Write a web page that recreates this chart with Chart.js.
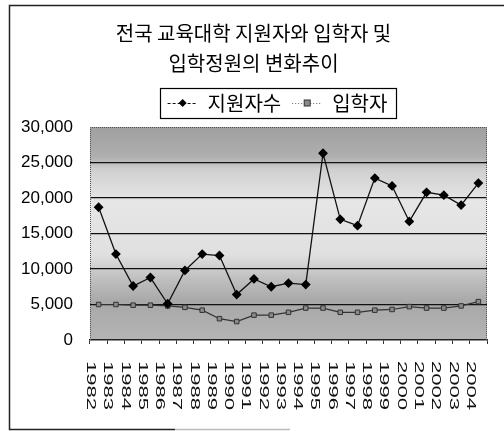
<!DOCTYPE html>
<html>
<head>
<meta charset="utf-8">
<script src="https://cdn.jsdelivr.net/npm/chart.js@4.4.0/dist/chart.umd.min.js"></script>
<style>
  html, body { margin: 0; padding: 0; background: #fff; }
  #wrap { width: 504px; height: 431px; position: relative; }
</style>
</head>
<body>
<div id="wrap"><canvas id="trendChart"></canvas></div>
<script>
// Chart data
const titleLines = ['전국 교육대학 지원자와 입학자 및', '입학정원의 변화추이'];
const years = [
  '1982', '1983', '1984', '1985', '1986', '1987', '1988', '1989', '1990', '1991', '1992', '1993',
  '1994', '1995', '1996', '1997', '1998', '1999', '2000', '2001', '2002', '2003', '2004'
];
const applicants = [
  18700, 12100, 7600, 8800, 5100, 9800, 12100, 11900, 6400, 8600, 7500, 8000,
  7800, 26300, 17000, 16100, 22800, 21700, 16700, 20800, 20400, 19000, 22100
];
const entrants = [
  5000, 5000, 4900, 4900, 4800, 4600, 4200, 3000, 2600, 3500, 3500, 3900,
  4500, 4500, 3900, 3900, 4200, 4300, 4700, 4500, 4500, 4800, 5400
];
const yTicks = [0, 5000, 10000, 15000, 20000, 25000, 30000];

const KR_FONT = '"Noto Sans CJK KR", "Noto Sans", sans-serif';
const NUM_FONT = '"Liberation Sans", Arial, sans-serif';
const LEGEND_SHIFT = 24; // legend sits right of the title centre in the original

// grey mottled plot background + dotted plot border
const plotBackground = {
  id: 'plotBackground',
  beforeDraw(chart) {
    const { ctx, chartArea: a } = chart;
    const g = ctx.createLinearGradient(0, a.top, 0, a.bottom);
    g.addColorStop(0, '#a0a0a0');
    g.addColorStop(0.14, '#afafaf');
    g.addColorStop(0.2, '#d0d0d0');
    g.addColorStop(0.35, '#e6e6e6');
    g.addColorStop(0.6, '#e0e0e0');
    g.addColorStop(0.7, '#c2c2c2');
    g.addColorStop(0.82, '#a8a8a8');
    g.addColorStop(1, '#b4b4b4');
    ctx.save();
    ctx.fillStyle = g;
    ctx.fillRect(a.left, a.top, a.right - a.left, a.bottom - a.top);
    ctx.restore();

    // move the legend a little to the right
    const lg = chart.legend;
    if (lg && !lg._shifted) {
      lg.left += LEGEND_SHIFT;
      lg.right += LEGEND_SHIFT;
      lg.legendHitBoxes.forEach(hb => { hb.left += LEGEND_SHIFT; });
      lg._shifted = true;
    }
  },
  beforeDatasetsDraw(chart) {
    const { ctx, chartArea: a } = chart;
    ctx.save();
    ctx.strokeStyle = '#555';
    ctx.lineWidth = 1;
    ctx.setLineDash([1, 1]);
    ctx.beginPath();
    ctx.moveTo(a.left + 0.5, a.bottom);
    ctx.lineTo(a.left + 0.5, a.top + 0.5);
    ctx.lineTo(a.right - 0.5, a.top + 0.5);
    ctx.lineTo(a.right - 0.5, a.bottom);
    ctx.stroke();
    ctx.restore();
  }
};

// outer frame of the figure
const outerFrame = {
  id: 'outerFrame',
  afterDraw(chart) {
    const { ctx } = chart;
    ctx.save();
    ctx.strokeStyle = '#222';
    ctx.lineWidth = 1.5;
    ctx.beginPath();
    ctx.moveTo(504, 5.5);
    ctx.lineTo(9.5, 5.5);
    ctx.lineTo(9.5, 429.5);
    ctx.lineTo(175, 429.5);
    ctx.stroke();
    ctx.strokeStyle = '#bbb';
    ctx.beginPath();
    ctx.moveTo(175, 429.5);
    ctx.lineTo(290, 429.5);
    ctx.stroke();
    ctx.restore();
  }
};

// line + marker samples and the box round the legend
const legendDecor = {
  id: 'legendDecor',
  afterDraw(chart) {
    const { ctx } = chart;
    const boxes = chart.legend.legendHitBoxes;
    if (!boxes || !boxes.length) return;
    ctx.save();
    boxes.forEach((hb, i) => {
      const cy = hb.top + hb.height / 2;
      const cx = hb.left + 15;
      ctx.lineWidth = 1;
      ctx.strokeStyle = i === 0 ? '#111' : '#666';
      ctx.setLineDash(i === 0 ? [3, 2] : [1, 2]);
      ctx.beginPath();
      ctx.moveTo(hb.left, cy + 0.5);
      ctx.lineTo(hb.left + 30, cy + 0.5);
      ctx.stroke();
      ctx.setLineDash([]);
      if (i === 0) {
        ctx.fillStyle = '#000';
        ctx.beginPath();
        ctx.moveTo(cx, cy - 4);
        ctx.lineTo(cx + 4, cy);
        ctx.lineTo(cx, cy + 4);
        ctx.lineTo(cx - 4, cy);
        ctx.closePath();
        ctx.fill();
      } else {
        ctx.fillStyle = '#8a8a8a';
        ctx.strokeStyle = '#333';
        ctx.fillRect(cx - 3, cy - 3, 6, 6);
        ctx.strokeRect(cx - 3, cy - 3, 6, 6);
      }
    });
    const left = Math.min(...boxes.map(b => b.left)) - 8;
    const right = Math.max(...boxes.map(b => b.left + b.width)) + 8;
    const cy = boxes[0].top + boxes[0].height / 2;
    ctx.strokeStyle = '#000';
    ctx.lineWidth = 1.2;
    ctx.strokeRect(Math.round(left) + 0.5, Math.round(cy - 15) + 0.5, Math.round(right - left), 30);
    ctx.restore();
  }
};

// year labels, turned a quarter clockwise
const yearLabels = {
  id: 'yearLabels',
  afterDraw(chart) {
    const { ctx } = chart;
    const xs = chart.scales.x;
    ctx.save();
    ctx.fillStyle = '#111';
    ctx.font = '13px ' + NUM_FONT;
    ctx.textAlign = 'left';
    ctx.textBaseline = 'middle';
    years.forEach((yr, i) => {
      const x = xs.getPixelForValue(i) - 8;
      ctx.save();
      ctx.translate(x, 361);
      ctx.rotate(Math.PI / 2);
      ctx.scale(1.7, 1);
      ctx.fillText(yr, 0, 0);
      ctx.restore();
    });
    ctx.restore();
  }
};

const ctx = document.getElementById('trendChart').getContext('2d');
const trendChart = new Chart(ctx, {
  type: 'line',
  data: {
    labels: years,
    datasets: [
      {
        label: '지원자수',
        data: applicants,
        borderColor: '#111',
        backgroundColor: '#000',
        borderWidth: 1.3,
        pointStyle: 'rectRot',
        pointRadius: 4,
        pointBackgroundColor: '#000',
        pointBorderColor: '#000',
        tension: 0,
      },
      {
        label: '입학자',
        data: entrants,
        borderColor: '#333',
        backgroundColor: '#888',
        borderWidth: 1.2,
        pointStyle: 'rect',
        pointRadius: 3.2,
        pointBackgroundColor: '#8a8a8a',
        pointBorderColor: '#333',
        pointBorderWidth: 1,
        tension: 0,
      },
    ],
  },
  options: {
    responsive: true,
    maintainAspectRatio: false,
    animation: false,
    devicePixelRatio: 1,
    layout: { padding: { left: 20, right: 17, top: 0, bottom: 0 } },
    plugins: {
      title: {
        display: true,
        text: titleLines,
        color: '#000',
        font: { family: KR_FONT, size: 20, weight: 'normal', lineHeight: '30px' },
        padding: { top: 18, bottom: 0 },
      },
      legend: {
        display: true,
        position: 'top',
        labels: {
          color: '#000',
          font: { family: KR_FONT, size: 20 },
          boxWidth: 30,
          boxHeight: 28,
          padding: 11,
          generateLabels(chart) {
            return Chart.defaults.plugins.legend.labels.generateLabels(chart).map(item => ({
              ...item,
              fillStyle: 'rgba(0,0,0,0)',
              strokeStyle: 'rgba(0,0,0,0)',
              lineWidth: 0,
            }));
          },
        },
      },
      tooltip: { enabled: false },
    },
    scales: {
      x: {
        offset: true,
        grid: {
          display: true,
          offset: true,
          drawOnChartArea: false,
          drawTicks: true,
          tickLength: 4,
          color: '#333',
        },
        border: { display: true, color: '#222', width: 1.5 },
        ticks: { display: false },
        afterFit(scale) {
          scale.height = 91;
        },
      },
      y: {
        min: 0,
        max: 30000,
        afterBuildTicks(scale) {
          scale.ticks = yTicks.map(v => ({ value: v }));
        },
        grid: {
          color: c => (c.tick.value === 0 || c.tick.value === 30000 ? 'rgba(0,0,0,0)' : '#111'),
          lineWidth: 1.2,
          drawTicks: false,
        },
        border: { display: false },
        ticks: {
          color: '#000',
          font: { family: NUM_FONT, size: 17 },
          padding: 17,
          callback: value => value.toLocaleString('en-US'),
        },
        afterFit(scale) {
          scale.width = 70;
        },
      },
    },
  },
  plugins: [plotBackground, outerFrame, legendDecor, yearLabels],
});
</script>
</body>
</html>
